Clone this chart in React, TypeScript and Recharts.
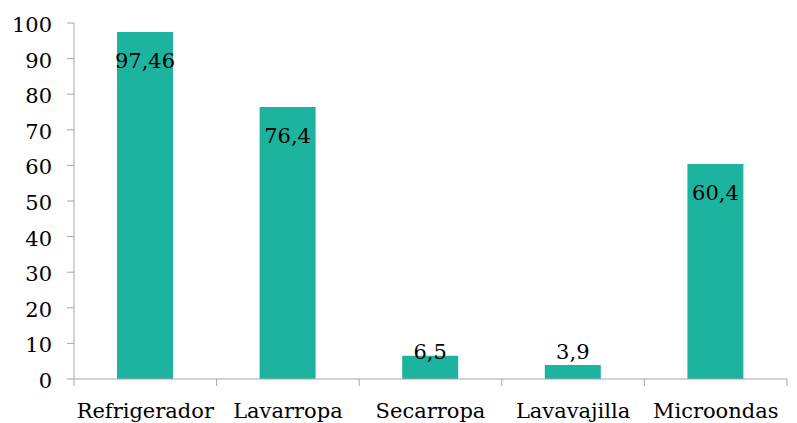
import { BarChart, Bar, XAxis, YAxis, LabelList } from "recharts";

// Category names and values
const categories = ["Refrigerador", "Lavarropa", "Secarropa", "Lavavajilla", "Microondas"];
const values = [97.46, 76.4, 6.5, 3.9, 60.4];
const yTicks = [0, 10, 20, 30, 40, 50, 60, 70, 80, 90, 100];

const data = categories.map((name, i) => ({ name, value: values[i] }));

// DejaVu Serif is the serif face that actually resolves in the renderer
const FONT = "DejaVu Serif";
const AXIS = "#A6A6A6";

const Txt = ({ x, y, anchor, children }: any) => (
  <text x={x} y={y} textAnchor={anchor} fill="#000" fontFamily={FONT} fontSize={21}>
    {children}
  </text>
);

// X tick: category text plus tick marks at the band edges
const CategoryTick = (props: any) => {
  const { x, y, payload, index, width } = props;
  const band = width / categories.length;
  const left = x - band / 2;
  return (
    <g>
      <line x1={left} x2={left} y1={y} y2={y + 7} stroke={AXIS} />
      {index === categories.length - 1 && (
        <line x1={x + band / 2} x2={x + band / 2} y1={y} y2={y + 7} stroke={AXIS} />
      )}
      <Txt x={x} y={y + 39} anchor="middle">{payload.value}</Txt>
    </g>
  );
};

// Y tick: plain number, right aligned
const NumberTick = (props: any) => {
  const { x, y, payload } = props;
  return <Txt x={x} y={y + 9} anchor="end">{payload.value}</Txt>;
};

// Value label: inside the top of tall bars, just above short ones
const ValueLabel = (props: any) => {
  const { x, y, width, height, value } = props;
  const ty = height > 40 ? y + 36 : y + height - 20;
  return <Txt x={x + width / 2} y={ty} anchor="middle">{String(value).replace(".", ",")}</Txt>;
};

export default function App() {
  return (
    <div style={{ position: "absolute", left: 0, top: 0, width: 797, height: 423, background: "#fff" }}>
      <BarChart
        width={797}
        height={423}
        data={data}
        margin={{ top: 23, right: 10, left: 0, bottom: 0 }}
      >
        <XAxis
          dataKey="name"
          height={44}
          stroke={AXIS}
          tickLine={false}
          tickSize={0}
          tickMargin={0}
          tick={<CategoryTick />}
          interval={0}
        />
        <YAxis
          width={74}
          domain={[0, 100]}
          ticks={yTicks}
          stroke={AXIS}
          tickSize={7}
          tickMargin={15}
          tick={<NumberTick />}
          interval={0}
        />
        <Bar dataKey="value" fill="#1CB49F" barSize={56} isAnimationActive={false}>
          <LabelList dataKey="value" content={<ValueLabel />} />
        </Bar>
      </BarChart>
    </div>
  );
}
